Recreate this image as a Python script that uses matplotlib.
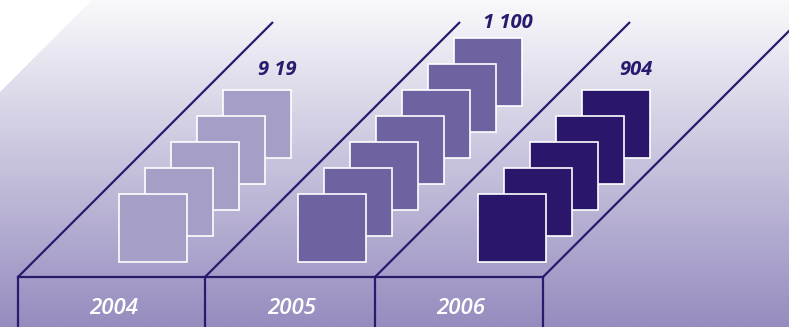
import numpy as np
import matplotlib as mpl
mpl.use('Agg')
import matplotlib.pyplot as plt
from matplotlib.patches import Polygon, Rectangle

# data
years = ['2004', '2005', '2006']
values = [919, 1100, 904]
value_labels = ['9 19', '1 100', '904']
squares = [5, 7, 5]
fills = ['#a59fc8', '#6f62a0', '#2a176c']

# layout (pixel coordinates, y grows downward)
W, H = 789, 327
lane_edges = [18, 205, 375, 543]
front_left = [119, 298, 478]
base_y = 277
sq_bottom = 262
sq = 68
step = 26
ink = '#2a1a6e'

fig = plt.figure(figsize=(W / 100, H / 100), dpi=100)
ax = fig.add_axes([0, 0, 1, 1])
ax.set_xlim(0, W)
ax.set_ylim(H, 0)
ax.axis('off')

# gradient backdrop with the cut top-left corner
top = np.array([249, 249, 251]) / 255
bot = np.array([150, 140, 191]) / 255
t = np.linspace(0, 1, 256)[:, None, None]
grad = top * (1 - t) + bot * t
grad = np.repeat(grad, 2, axis=1)
im = ax.imshow(grad, extent=[0, W, H, 0], aspect='auto', zorder=0)
clip = Polygon([(0, 92), (92, 0), (W, 0), (W, H), (0, H)], closed=True,
               transform=ax.transData, facecolor='none', edgecolor='none')
ax.add_patch(clip)
im.set_clip_path(clip)

# lane frame: baseline, verticals and 45 degree rails
ax.plot([lane_edges[0], lane_edges[-1]], [base_y, base_y], color=ink, lw=1.6, zorder=2)
for i, x in enumerate(lane_edges):
    ax.plot([x, x], [base_y, H + 2], color=ink, lw=1.6, zorder=2)
    rise = 255 if i < len(lane_edges) - 1 else 300
    ax.plot([x, x + rise], [base_y, base_y - rise], color=ink, lw=1.6,
            zorder=2, solid_capstyle='butt')

# stacked squares, back ones first
for i in range(len(years)):
    n = squares[i]
    for k in range(n - 1, -1, -1):
        x0 = front_left[i] + step * k
        y0 = sq_bottom - sq - step * k
        ax.add_patch(Rectangle((x0, y0), sq, sq, facecolor=fills[i],
                               edgecolor='white', lw=1.2, zorder=3))
    lx = front_left[i] + step * (n - 1) + sq - 14
    ly = max(sq_bottom - sq - step * (n - 1) - 20, 23)
    ax.text(lx, ly, value_labels[i], ha='center', va='center', color=ink,
            fontsize=14.5, fontweight='bold', fontstyle='italic',
            family='Open Sans', zorder=4)
    cx = (lane_edges[i] + lane_edges[i + 1]) / 2
    ax.text(cx + 2, 308, years[i], ha='center', va='center', color='white',
            fontsize=16, fontweight='semibold', fontstyle='italic',
            family='Open Sans', zorder=4)

fig.savefig('out.png', dpi=100)
